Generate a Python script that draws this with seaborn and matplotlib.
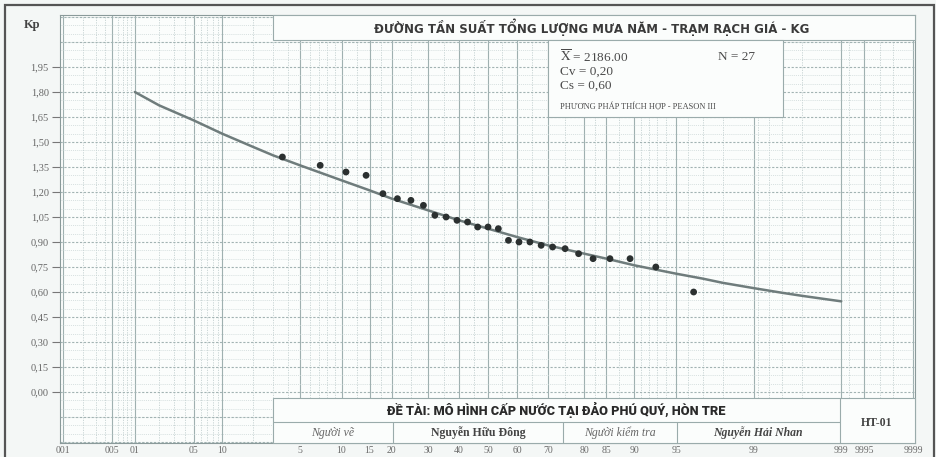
from statistics import NormalDist

import numpy as np
import matplotlib
matplotlib.use("Agg")
import matplotlib.pyplot as plt
from matplotlib.patches import Rectangle
import seaborn as sns

# empirical points (exceedance probability %, Kp)
obs_p = [3.6, 7.1, 10.7, 14.3, 17.9, 21.4, 25.0, 28.6, 32.1, 35.7, 39.3, 42.9, 46.4, 50.0,
         53.6, 57.1, 60.7, 64.3, 67.9, 71.4, 75.0, 78.6, 82.1, 85.7, 89.3, 92.9, 96.4]
obs_k = [1.41, 1.36, 1.32, 1.30, 1.19, 1.16, 1.15, 1.12, 1.06, 1.05, 1.03, 1.02, 0.99, 0.99,
         0.98, 0.91, 0.90, 0.90, 0.88, 0.87, 0.86, 0.83, 0.80, 0.80, 0.80, 0.75, 0.60]

# fitted Pearson III curve
curve_p = [0.1, 0.2, 0.5, 1, 2, 3, 5, 10, 15, 20, 30, 40, 50, 60, 70, 80, 85, 90, 95, 97, 98, 99,
           99.5, 99.7, 99.9]
curve_k = [1.80, 1.72, 1.63, 1.55, 1.47, 1.42, 1.36, 1.27, 1.21, 1.16, 1.09, 1.03, 0.98, 0.93,
           0.88, 0.83, 0.80, 0.76, 0.71, 0.68, 0.655, 0.623, 0.595, 0.577, 0.544]

x_ticks = [0.01, 0.05, 0.1, 0.5, 1, 5, 10, 15, 20, 30, 40, 50, 60, 70, 80, 85, 90, 95, 99, 99.9, 99.95, 99.99]
x_labels = ["001", "005", "01", "05", "10", "5", "10", "15", "20", "30", "40", "50", "60", "70",
            "80", "85", "90", "95", "99", "999", "9995", "9999"]
x_minor = [0.02, 0.03, 0.04, 0.06, 0.07, 0.08, 0.09, 0.2, 0.3, 0.4, 0.6, 0.7, 0.8, 0.9,
           2, 3, 4, 6, 7, 8, 9, 12.5, 17.5, 25, 35, 45, 55, 65, 75, 82.5, 87.5,
           91, 92, 93, 94, 96, 97, 98, 99.1, 99.3, 99.5, 99.7, 99.92, 99.97, 99.98]

y_ticks = [0.00, 0.15, 0.30, 0.45, 0.60, 0.75, 0.90, 1.05, 1.20, 1.35, 1.50, 1.65, 1.80, 1.95]
y_extra = [-0.30, -0.15, 2.10, 2.25]

title = "ĐƯỜNG TẦN SUẤT TỔNG LƯỢNG MƯA NĂM - TRẠM RẠCH GIÁ - KG"
project = "ĐỀ TÀI: MÔ HÌNH CẤP NƯỚC TẠI ĐẢO PHÚ QUÝ, HÒN TRE"

nd = NormalDist()


def fwd(p):
    p = np.clip(np.asarray(p, dtype=float) / 100.0, 1e-9, 1 - 1e-9)
    return np.vectorize(nd.inv_cdf, otypes=[float])(p)


def inv(z):
    return np.vectorize(nd.cdf, otypes=[float])(np.asarray(z, dtype=float)) * 100.0


sns.set_theme(style="white")
plt.rcParams["font.family"] = ["Liberation Serif", "DejaVu Serif"]
plt.rcParams["mathtext.fontset"] = "stix"

W, H = 937, 457
fig = plt.figure(figsize=(W / 100, H / 100), dpi=100, facecolor="#f4f7f6")


def fx(x):
    return x / W


def fy(y):
    return 1 - y / H


ax = fig.add_axes([fx(60), fy(443), fx(915) - fx(60), fy(15) - fy(443)])
ax.set_facecolor("#fbfdfc")

sns.lineplot(x=curve_p, y=curve_k, ax=ax, color="#6f7c7c", lw=1.8, zorder=4)
sns.scatterplot(x=obs_p, y=obs_k, ax=ax, color="#2b3030", s=24, edgecolor="none", zorder=5)

ax.set_xscale("function", functions=(fwd, inv))
ax.set_xlim(inv(-3.745), inv(3.736))
ax.set_ylim(-0.306, 2.262)

ax.set_xticks(x_ticks)
ax.set_xticklabels(x_labels)
ax.set_xticks(x_minor, minor=True)

ax.set_yticks(y_ticks)
ax.set_yticklabels([f"{v:.2f}".replace(".", ",") for v in y_ticks])
ax.set_yticks(np.round(np.arange(-0.30, 2.27, 0.05), 2), minor=True)
for v in y_extra:
    ax.axhline(v, color="#a2b3b3", lw=0.8, ls=(0, (2, 1.5)), zorder=0.6)

ax.set_axisbelow(True)
ax.grid(which="major", axis="x", color="#9fb0b0", lw=0.8, ls="-")
ax.grid(which="minor", axis="x", color="#c3d0d0", lw=0.6, ls=(0, (1.5, 1.5)))
ax.grid(which="major", axis="y", color="#a2b3b3", lw=0.8, ls=(0, (2, 1.5)))
ax.grid(which="minor", axis="y", color="#cad6d6", lw=0.5, ls=(0, (1.5, 1.5)))

ax.tick_params(axis="x", which="both", length=0, pad=2, labelsize=7, labelcolor="#6a6a6a")
ax.tick_params(axis="y", which="major", length=6, width=0.8, color="#777777", pad=2,
               labelsize=7.5, labelcolor="#666666", left=True)
ax.tick_params(axis="y", which="minor", length=0)
for s in ax.spines.values():
    s.set_color("#8a9a9a")
    s.set_linewidth(0.8)

ax.set_xlabel("")
ax.set_ylabel("")

# title strip
ax.add_patch(Rectangle((fx(273), fy(40)), fx(915) - fx(273), fy(15) - fy(40), transform=fig.transFigure,
                       facecolor="#fbfdfc", edgecolor="#9aabab", lw=0.8, zorder=3, clip_on=False))
fig.text(fx(592), fy(27), title, ha="center", va="center", fontsize=8.5, fontweight="bold",
         color="#3a3a3a", family=["DejaVu Sans"])

# statistics box
ax.add_patch(Rectangle((fx(548), fy(117)), fx(783) - fx(548), fy(40) - fy(117), transform=fig.transFigure,
                       facecolor="#fbfdfc", edgecolor="#9aabab", lw=0.8, zorder=3, clip_on=False))
stat_kw = dict(fontsize=9.5, color="#4a4a4a", va="center")
fig.text(fx(560), fy(57), r"$\overline{\mathrm{X}}$ = 2186.00", **stat_kw)
fig.text(fx(718), fy(57), "N = 27", **stat_kw)
fig.text(fx(560), fy(72), "Cv = 0,20", **stat_kw)
fig.text(fx(560), fy(86), "Cs = 0,60", **stat_kw)
fig.text(fx(560), fy(107), "PHƯƠNG PHÁP THÍCH HỢP - PEASON III", fontsize=6, color="#4a4a4a", va="center")

# title block at the bottom
ax.add_patch(Rectangle((fx(273), fy(443)), fx(915) - fx(273), fy(398) - fy(443), transform=fig.transFigure,
                       facecolor="#fbfdfc", edgecolor="#9aabab", lw=0.8, zorder=3, clip_on=False))
line_kw = dict(color="#9aabab", lw=0.8, transform=fig.transFigure)
fig.add_artist(plt.Line2D([fx(273), fx(840)], [fy(422), fy(422)], **line_kw))
for xv in (393, 563, 677):
    fig.add_artist(plt.Line2D([fx(xv), fx(xv)], [fy(422), fy(443)], **line_kw))
fig.add_artist(plt.Line2D([fx(840), fx(840)], [fy(398), fy(443)], **line_kw))

fig.text(fx(556), fy(410), project, ha="center", va="center", fontsize=9.2, fontweight="heavy",
         color="#2a2a2a", family=["Roboto", "DejaVu Sans"])
fig.text(fx(333), fy(433), "Người vẽ", ha="center", va="center", fontsize=8.5, style="italic", color="#666666")
fig.text(fx(478), fy(433), "Nguyễn Hữu Đông", ha="center", va="center", fontsize=8.5, fontweight="bold",
         color="#444444")
fig.text(fx(620), fy(433), "Người kiểm tra", ha="center", va="center", fontsize=8.5, style="italic",
         color="#666666")
fig.text(fx(758), fy(433), "Nguyễn Hải Nhan", ha="center", va="center", fontsize=8.5, fontweight="bold",
         style="italic", color="#444444")
fig.text(fx(877), fy(423), "HT-01", ha="center", va="center", fontsize=8.5, fontweight="bold", color="#444444")

fig.text(fx(32), fy(25), "Kp", ha="center", va="center", fontsize=9, fontweight="bold", color="#444444")

# outer frame of the sheet
fig.add_artist(Rectangle((fx(5), fy(470)), fx(934) - fx(5), fy(5) - fy(470), transform=fig.transFigure,
                         fill=False, edgecolor="#555555", lw=1.6))

fig.savefig("out.png", dpi=100, facecolor=fig.get_facecolor())
